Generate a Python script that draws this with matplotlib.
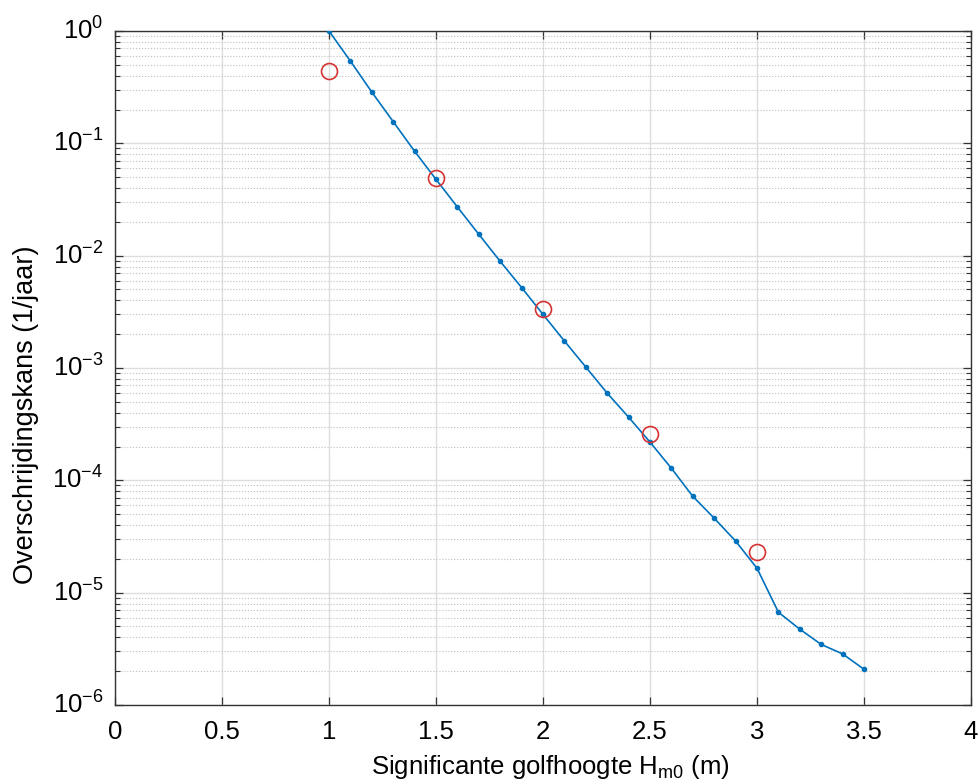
import matplotlib
matplotlib.use('Agg')
import matplotlib.pyplot as plt
from matplotlib.ticker import LogLocator, NullFormatter

plt.rcParams['font.family'] = ['Liberation Sans', 'DejaVu Sans']
plt.rcParams['mathtext.fontset'] = 'custom'
plt.rcParams['mathtext.rm'] = 'Liberation Sans'
plt.rcParams['mathtext.it'] = 'Liberation Sans'
plt.rcParams['mathtext.default'] = 'regular'
plt.rcParams['ytick.alignment'] = 'center'

# berekende overschrijdingskansen (lijn)
hm0 = [1.0, 1.1, 1.2, 1.3, 1.4, 1.5, 1.6, 1.7, 1.8, 1.9, 2.0, 2.1, 2.2,
       2.3, 2.4, 2.5, 2.6, 2.7, 2.8, 2.9, 3.0, 3.1, 3.2, 3.3, 3.4, 3.5]
kans = [1.0, 0.54, 0.286, 0.156, 0.085, 0.0478, 0.0271, 0.0155, 0.0089,
        0.0052, 0.0030, 0.00174, 0.00102, 5.97e-4, 3.65e-4, 2.19e-4,
        1.28e-4, 7.2e-5, 4.6e-5, 2.88e-5, 1.65e-5, 6.7e-6, 4.73e-6,
        3.46e-6, 2.85e-6, 2.08e-6]

# referentiepunten (rode cirkels)
hm0_ref = [1.0, 1.5, 2.0, 2.5, 3.0]
kans_ref = [0.443, 0.0494, 0.00337, 2.61e-4, 2.28e-5]

xticks = [0, 0.5, 1, 1.5, 2, 2.5, 3, 3.5, 4]
xticklabels = ['0', '0.5', '1', '1.5', '2', '2.5', '3', '3.5', '4']

fig = plt.figure(figsize=(9.79, 7.82), dpi=100)
ax = fig.add_axes([115 / 979, 77 / 782, 856 / 979, 674 / 782])

ax.plot(hm0, kans, color=(0, 0.447, 0.741), lw=1.2, marker='.', ms=6, zorder=3)
ax.plot(hm0_ref, kans_ref, ls='none', marker='o', ms=11.5, mfc='none',
        mec=(0.84, 0.2, 0.2), mew=1.2, zorder=4)

ax.set_yscale('log')
ax.set_xlim(0, 4)
ax.set_ylim(1e-6, 1e0)
ax.set_xticks(xticks)
ax.set_xticklabels(xticklabels)
ax.yaxis.set_major_locator(LogLocator(base=10, numticks=10))
ax.yaxis.set_minor_locator(LogLocator(base=10, subs=range(2, 10), numticks=100))
ax.yaxis.set_minor_formatter(NullFormatter())

ax.grid(True, which='major', color='0.87', lw=1.0, ls='-')
ax.grid(True, which='minor', axis='y', color='0.75', lw=0.8, ls=':')
ax.set_axisbelow(True)

ax.tick_params(which='both', direction='in', top=True, right=True,
               labelsize=18.5, color='0.2')
ax.tick_params(which='major', length=6, width=0.9)
ax.tick_params(axis='x', which='major', pad=10.8)
ax.tick_params(axis='y', which='major', pad=8.5)
ax.tick_params(which='minor', length=3.5, width=0.8)
for s in ax.spines.values():
    s.set_color('0.2')
    s.set_linewidth(1.0)

ax.set_xlabel('Significante golfhoogte H$_{m0}$ (m)', fontsize=18.5)
ax.xaxis.set_label_coords(0.508, -0.1025)
ax.xaxis.label.set_verticalalignment('baseline')
ax.set_ylabel('Overschrijdingskans (1/jaar)', fontsize=19.5)
ax.yaxis.set_label_coords(-0.089, 0.43)

fig.savefig('out.png', dpi=100)
